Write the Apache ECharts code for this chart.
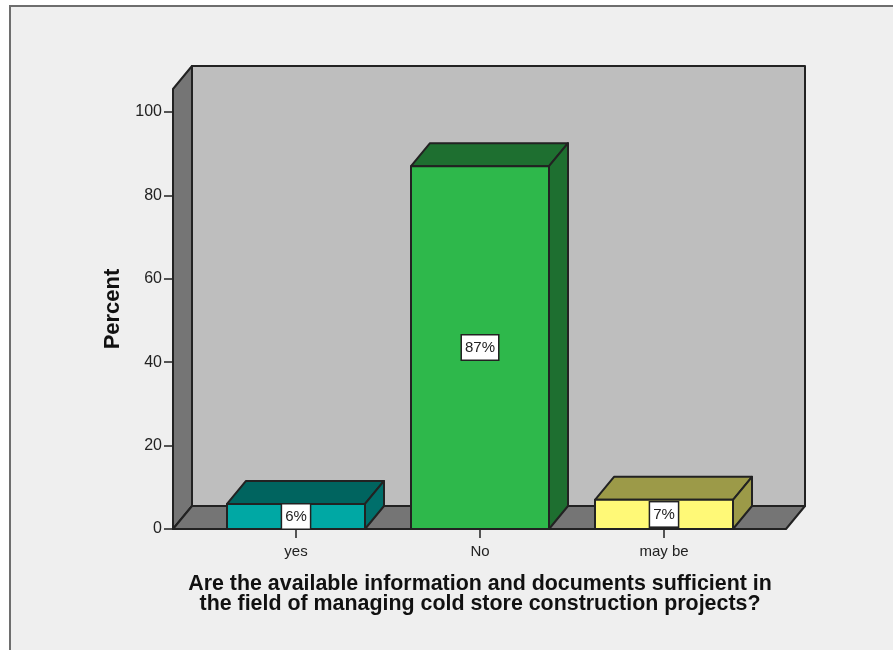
<!DOCTYPE html>
<html>
<head>
<meta charset="utf-8">
<style>html,body{margin:0;padding:0;background:#fff}#chart{width:893px;height:650px}</style>
<script src="https://cdn.jsdelivr.net/npm/echarts@6/dist/echarts.min.js"></script>
</head>
<body>
<div id="chart"></div>
<script>
// Survey answers, in percent
const categories = ['yes', 'No', 'may be'];
const percentValues = [6, 87, 7];
const percentLabels = ['6%', '87%', '7%'];
const yTicks = [0, 20, 40, 60, 80, 100];
const axisTitle = 'Percent';
const questionTitle = 'Are the available information and documents sufficient in\nthe field of managing cold store construction projects?';

// Face colours of each box: front, top, side
const frontColors = ['#00a8a4', '#2eb84b', '#fff977'];
const topColors = ['#00645f', '#1e6f30', '#9c9a48'];
const sideColors = ['#006f6b', '#1e6f30', '#9c9a48'];

const DEPTH_X = 19, DEPTH_Y = 23, BAR_WIDTH = 138, EDGE = '#222';
const FRONT_LEFT = 173, FRONT_RIGHT = 786, AXIS_TOP = 105.5;

function poly(points, fill, z2) {
  return { type: 'polygon', z2: z2, shape: { points: points },
    style: { fill: fill, stroke: EDGE, lineWidth: 2, lineJoin: 'round' } };
}

// Back wall, left wall and floor of the 3D box
function renderWalls(params, api) {
  const y0 = api.coord([0, 0])[1];
  const yTop = api.coord([0, AXIS_TOP])[1];
  const l = FRONT_LEFT, r = FRONT_RIGHT, dx = DEPTH_X, dy = DEPTH_Y;
  return { type: 'group', children: [
    poly([[l + dx, yTop - dy], [r + dx, yTop - dy], [r + dx, y0 - dy], [l + dx, y0 - dy]], '#bebebe', 1),
    poly([[l, yTop], [l + dx, yTop - dy], [l + dx, y0 - dy], [l, y0]], '#757575', 2),
    poly([[l, y0], [l + dx, y0 - dy], [r + dx, y0 - dy], [r, y0]], '#757575', 2)
  ] };
}

// One extruded bar with its value label
function renderBar(params, api) {
  const i = api.value(0), v = api.value(1);
  const c = api.coord([i, v]), base = api.coord([i, 0]), mid = api.coord([i, v / 2]);
  const l = c[0] - BAR_WIDTH / 2, r = c[0] + BAR_WIDTH / 2, t = c[1], b = base[1];
  const dx = DEPTH_X, dy = DEPTH_Y;
  return { type: 'group', children: [
    poly([[l, t], [l + dx, t - dy], [r + dx, t - dy], [r, t]], topColors[i], 1),
    poly([[r, t], [r + dx, t - dy], [r + dx, b - dy], [r, b]], sideColors[i], 1),
    poly([[l, t], [r, t], [r, b], [l, b]], frontColors[i], 2),
    { type: 'text', z2: 3, x: mid[0], y: mid[1],
      style: { text: percentLabels[i], align: 'center', verticalAlign: 'middle',
        fontFamily: 'Liberation Sans', fontSize: 15, fill: '#222',
        backgroundColor: '#fff', borderColor: '#222', borderWidth: 1.5,
        padding: [5, 3, 4, 3] } }
  ] };
}

const chart = echarts.init(document.getElementById('chart'), null, { renderer: 'canvas' });
chart.setOption({
  animation: false,
  backgroundColor: '#ffffff',
  graphic: [{
    type: 'rect', z: -10, silent: true,
    shape: { x: 10, y: 6, width: 1000, height: 800 },
    style: { fill: '#efefef', stroke: '#6e6e6e', lineWidth: 2 }
  }],
  grid: { left: 204, right: 137, top: 89, bottom: 121 },
  xAxis: {
    type: 'category',
    data: categories,
    axisLine: { show: false },
    axisTick: { show: true, alignWithLabel: true, length: 9, lineStyle: { color: '#222', width: 1.5 } },
    axisLabel: { color: '#222', fontFamily: 'Liberation Sans', fontSize: 15, margin: 15 },
    name: questionTitle,
    nameLocation: 'middle',
    nameGap: 45,
    nameTextStyle: { color: '#111', fontFamily: 'Liberation Sans', fontWeight: 'bold', fontSize: 21.4, lineHeight: 20 }
  },
  yAxis: {
    type: 'value',
    min: 0,
    max: AXIS_TOP,
    offset: 31,
    splitLine: { show: false },
    axisLine: { show: false },
    axisTick: { show: true, length: 9, customValues: yTicks, lineStyle: { color: '#222', width: 1.5 } },
    axisLabel: { color: '#222', fontFamily: 'Liberation Sans', fontSize: 16, margin: 11, padding: [7, 0, 0, 0], customValues: yTicks },
    name: axisTitle,
    nameLocation: 'middle',
    nameGap: 49,
    nameTextStyle: { color: '#111', fontFamily: 'Liberation Sans', fontWeight: 'bold', fontSize: 22 }
  },
  series: [
    { type: 'custom', coordinateSystem: 'cartesian2d', clip: false, silent: true, z: 1,
      renderItem: renderWalls, data: [[0, 0]] },
    { type: 'custom', coordinateSystem: 'cartesian2d', clip: false, silent: true, z: 2,
      renderItem: renderBar, encode: { x: 0, y: 1 },
      data: percentValues.map((v, i) => [i, v]) }
  ]
});
</script>
</body>
</html>
